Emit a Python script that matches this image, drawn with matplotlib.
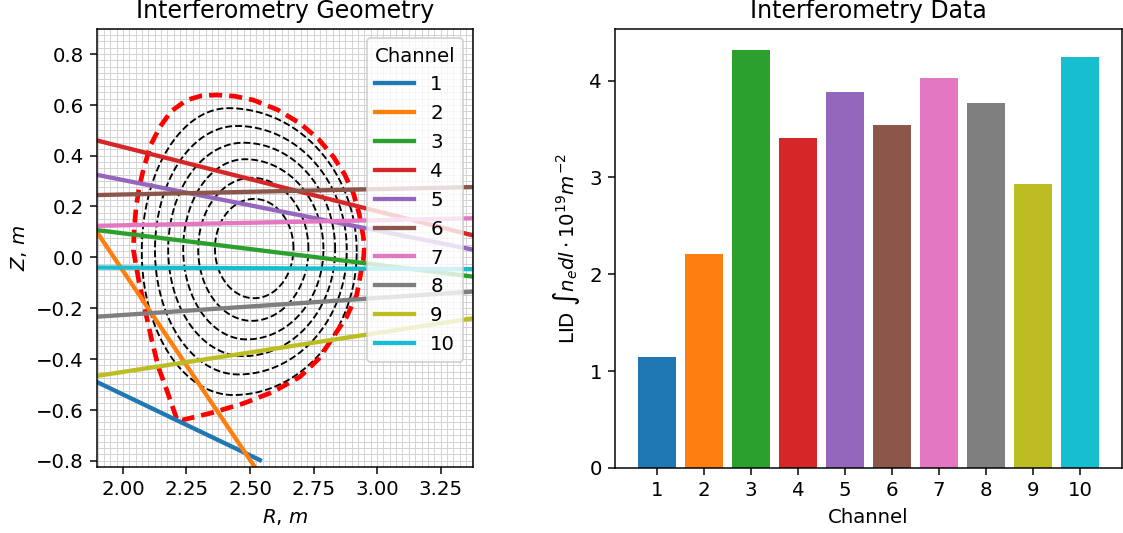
import numpy as np
import matplotlib
matplotlib.use("Agg")
import matplotlib.pyplot as plt
from matplotlib.ticker import MultipleLocator

channels = [1, 2, 3, 4, 5, 6, 7, 8, 9, 10]
lid_values = [1.14, 2.21, 4.32, 3.41, 3.88, 3.54, 4.03, 3.77, 2.93, 4.24]

# chord end points (R, Z)
chord_r0 = [1.85, 1.85, 1.85, 1.85, 1.85, 1.85, 1.85, 1.85, 1.85, 1.85]
chord_z0 = [-0.468, 0.170, 0.113, 0.472, 0.334, 0.244, 0.123, -0.237, -0.474, -0.040]
chord_r1 = [2.539, 2.569, 3.45, 3.45, 3.45, 3.45, 3.45, 3.45, 3.45, 3.45]
chord_z1 = [-0.798, -0.900, -0.085, 0.068, 0.016, 0.278, 0.155, -0.130, -0.229, -0.047]

# separatrix outline, starting at the X-point
sep_r = [2.211, 2.175, 2.139, 2.112, 2.087, 2.062, 2.041, 2.044, 2.052, 2.064, 2.080,
         2.108, 2.146, 2.190, 2.251, 2.310, 2.369, 2.440, 2.513, 2.610, 2.697, 2.770,
         2.828, 2.873, 2.907, 2.930, 2.946, 2.950, 2.946, 2.920, 2.880, 2.828, 2.770,
         2.697, 2.590, 2.474, 2.350, 2.231, 2.211]
sep_z = [-0.634, -0.530, -0.431, -0.320, -0.207, -0.090, 0.029, 0.110, 0.200, 0.275, 0.344,
         0.440, 0.514, 0.575, 0.619, 0.636, 0.639, 0.634, 0.619, 0.580, 0.527, 0.465,
         0.396, 0.325, 0.252, 0.170, 0.081, 0.035, -0.010, -0.148, -0.235, -0.313, -0.400,
         -0.470, -0.530, -0.575, -0.612, -0.641, -0.634]

# flux surfaces: left/right extent, top/bottom height and where the top/bottom sit
surf_r_left = [2.362, 2.296, 2.237, 2.178, 2.126, 2.074]
surf_r_right = [2.671, 2.730, 2.789, 2.835, 2.881, 2.920]
surf_z_top = [0.230, 0.313, 0.386, 0.451, 0.517, 0.587]
surf_z_bot = [-0.161, -0.250, -0.323, -0.389, -0.461, -0.542]
surf_r_top = [2.516, 2.507, 2.480, 2.474, 2.448, 2.415]
surf_r_bot = [2.516, 2.507, 2.487, 2.474, 2.454, 2.434]

plt.rcParams['font.size'] = 10.5
colors = plt.rcParams['axes.prop_cycle'].by_key()['color']

fig = plt.figure(figsize=(8.32, 3.95), dpi=135)
ax1 = fig.add_axes([0.0864, 0.1233, 0.3348, 0.8236])
ax2 = fig.add_axes([0.5476, 0.1225, 0.4512, 0.823])

# geometry
ax1.xaxis.set_minor_locator(MultipleLocator(0.025))
ax1.yaxis.set_minor_locator(MultipleLocator(0.025))
ax1.tick_params(which='minor', length=0)
ax1.grid(which='both', color='#d2d2d2', linewidth=0.5)

for i in range(len(surf_r_left)):
    zm = (surf_z_top[i] + surf_z_bot[i]) / 2
    t = np.linspace(0, np.pi / 2, 40)
    r_ur = surf_r_top[i] + (surf_r_right[i] - surf_r_top[i]) * np.cos(t)
    z_ur = zm + (surf_z_top[i] - zm) * np.sin(t)
    r_ul = surf_r_top[i] - (surf_r_top[i] - surf_r_left[i]) * np.sin(t)
    z_ul = zm + (surf_z_top[i] - zm) * np.cos(t)
    r_ll = surf_r_bot[i] - (surf_r_bot[i] - surf_r_left[i]) * np.cos(t)
    z_ll = zm - (zm - surf_z_bot[i]) * np.sin(t)
    r_lr = surf_r_bot[i] + (surf_r_right[i] - surf_r_bot[i]) * np.sin(t)
    z_lr = zm - (zm - surf_z_bot[i]) * np.cos(t)
    rr = np.concatenate([r_ur, r_ul, r_ll, r_lr])
    zz = np.concatenate([z_ur, z_ul, z_ll, z_lr])
    ax1.plot(rr, zz, color='black', linestyle='--', linewidth=1)

ax1.plot(sep_r, sep_z, color='red', linestyle=(0, (2.8, 1.5)), linewidth=2.5)

for i in range(len(channels)):
    ax1.plot([chord_r0[i], chord_r1[i]], [chord_z0[i], chord_z1[i]],
             color=colors[i], linewidth=2.3, label=str(channels[i]))

ax1.set_xlim(1.898, 3.378)
ax1.set_ylim(-0.824, 0.90)
ax1.set_aspect('equal')
ax1.set_xticks([2.00, 2.25, 2.50, 2.75, 3.00, 3.25])
ax1.set_yticks([-0.8, -0.6, -0.4, -0.2, 0.0, 0.2, 0.4, 0.6, 0.8])
ax1.set_xlabel('$R$, $m$')
ax1.set_ylabel('$Z$, $m$')
ax1.set_title('Interferometry Geometry')
ax1.legend(title='Channel', loc='upper right')

# data
ax2.bar(channels, lid_values, color=colors[:len(channels)])
ax2.set_xticks(channels)
ax2.set_yticks([0, 1, 2, 3, 4])
ax2.set_xlabel('Channel')
ax2.set_ylabel(r'LID $\int n_e dl \cdot 10^{19}m^{-2}$')
ax2.set_title('Interferometry Data')

fig.savefig('out.png', dpi=135)
